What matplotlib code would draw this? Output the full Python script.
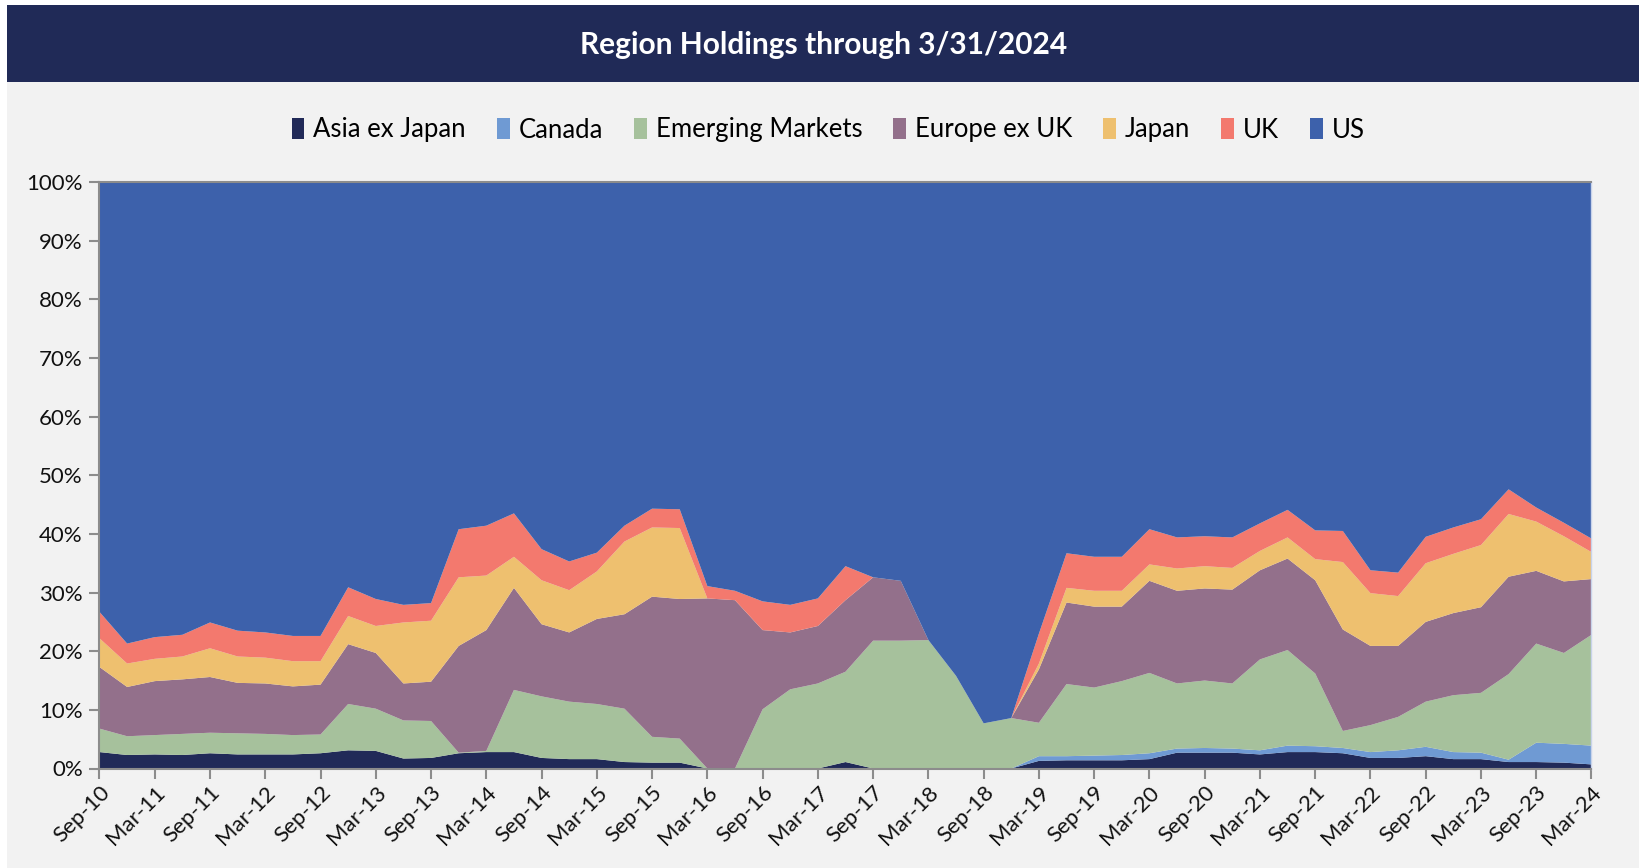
import matplotlib
matplotlib.use("Agg")
import matplotlib.pyplot as plt
import matplotlib.patches as mpatches
from matplotlib.ticker import FuncFormatter
import numpy as np

plt.rcParams['font.family'] = ['Lato', 'DejaVu Sans']

title = "Region Holdings through 3/31/2024"
series_names = ["Asia ex Japan", "Canada", "Emerging Markets", "Europe ex UK", "Japan", "UK", "US"]
colors = ["#212A58", "#6F9AD3", "#A6C19C", "#93708B", "#EEC06F", "#F3796E", "#3D61AB"]

# Quarterly, Sep-10 .. Mar-24 (percent of holdings)
asia = [2.8, 2.3, 2.4, 2.3, 2.6, 2.4, 2.4, 2.4, 2.6, 3.1, 3.0, 1.7, 1.8, 2.6, 2.8, 2.8, 1.8, 1.6, 1.6, 1.1,
        1.0, 1.0, 0.0, 0.0, 0.0, 0.0, 0.0, 1.1, 0.0, 0.0, 0.0, 0.0, 0.0, 0.0, 1.3, 1.4, 1.4, 1.4, 1.6, 2.7,
        2.7, 2.7, 2.4, 2.8, 2.8, 2.6, 1.8, 1.8, 2.1, 1.6, 1.6, 1.1, 1.1, 1.0, 0.7]
canada = [0.0, 0.0, 0.0, 0.0, 0.0, 0.0, 0.0, 0.0, 0.0, 0.0, 0.0, 0.0, 0.0, 0.0, 0.0, 0.0, 0.0, 0.0, 0.0, 0.0,
          0.0, 0.0, 0.0, 0.0, 0.0, 0.0, 0.0, 0.0, 0.0, 0.0, 0.0, 0.0, 0.0, 0.0, 0.8, 0.7, 0.8, 0.9, 1.0, 0.7,
          0.8, 0.7, 0.7, 1.1, 1.0, 0.9, 1.0, 1.3, 1.6, 1.2, 1.1, 0.4, 3.3, 3.2, 3.2]
emerging = [4.0, 3.2, 3.3, 3.6, 3.5, 3.6, 3.5, 3.3, 3.2, 7.9, 7.2, 6.5, 6.3, 0.1, 0.2, 10.6, 10.5, 9.8, 9.4, 9.1,
            4.4, 4.1, 0.0, 0.0, 10.1, 13.5, 14.5, 15.4, 21.8, 21.8, 21.9, 15.8, 7.7, 8.6, 5.7, 12.3, 11.6, 12.6, 13.7, 11.1,
            11.5, 11.1, 15.5, 16.3, 12.4, 2.9, 4.6, 5.7, 7.7, 9.7, 10.2, 14.6, 16.9, 15.5, 18.9]
europe = [10.5, 8.4, 9.2, 9.3, 9.5, 8.6, 8.6, 8.3, 8.5, 10.2, 9.5, 6.3, 6.7, 18.2, 20.6, 17.4, 12.3, 11.8, 14.5, 16.1,
          23.9, 23.8, 29.0, 28.7, 13.5, 9.7, 9.8, 12.2, 10.8, 10.2, 0.0, 0.0, 0.0, 0.0, 9.1, 13.9, 13.8, 12.7, 15.7, 15.8,
          15.7, 16.0, 15.2, 15.6, 15.9, 17.3, 13.5, 12.1, 13.6, 14.0, 14.6, 16.6, 12.4, 12.2, 9.5]
japan = [4.9, 4.0, 3.8, 3.9, 4.9, 4.5, 4.4, 4.3, 4.0, 4.8, 4.6, 10.4, 10.4, 11.7, 9.3, 5.3, 7.5, 7.2, 8.1, 12.4,
         11.8, 12.1, 0.0, 0.0, 0.0, 0.0, 0.0, 0.0, 0.0, 0.0, 0.0, 0.0, 0.0, 0.0, 1.0, 2.5, 2.7, 2.7, 2.8, 3.8,
         3.8, 3.7, 3.3, 3.6, 3.6, 11.5, 9.0, 8.5, 10.0, 10.1, 10.6, 10.7, 8.4, 7.7, 4.6]
uk = [4.5, 3.4, 3.7, 3.7, 4.4, 4.4, 4.3, 4.3, 4.3, 4.9, 4.6, 3.0, 3.0, 8.2, 8.5, 7.4, 5.3, 4.9, 3.2, 2.7,
      3.2, 3.2, 2.1, 1.6, 4.9, 4.7, 4.7, 5.8, 0.0, 0.0, 0.0, 0.0, 0.0, 0.0, 5.1, 5.9, 5.8, 5.8, 6.0, 5.3,
      5.1, 5.2, 4.7, 4.7, 4.9, 5.3, 3.9, 4.0, 4.5, 4.5, 4.4, 4.2, 2.4, 2.3, 2.3]
us = [100 - sum(v) for v in zip(asia, canada, emerging, europe, japan, uk)]

tick_labels = ["Sep-10", "Mar-11", "Sep-11", "Mar-12", "Sep-12", "Mar-13", "Sep-13", "Mar-14", "Sep-14",
               "Mar-15", "Sep-15", "Mar-16", "Sep-16", "Mar-17", "Sep-17", "Mar-18", "Sep-18", "Mar-19",
               "Sep-19", "Mar-20", "Sep-20", "Mar-21", "Sep-21", "Mar-22", "Sep-22", "Mar-23", "Sep-23", "Mar-24"]

W, H = 1640, 868
fig = plt.figure(figsize=(W / 100, H / 100), dpi=100, facecolor="white")

# light grey panel and navy title banner
fig.patches.append(mpatches.Rectangle((7 / W, 0), 1 - 7 / W, 1 - 5 / H, transform=fig.transFigure,
                                      facecolor="#F2F2F2", edgecolor="none", zorder=-2))
fig.patches.append(mpatches.Rectangle((7 / W, 1 - 82 / H), 1 - 7 / W, 77 / H, transform=fig.transFigure,
                                      facecolor="#202A57", edgecolor="none", zorder=-1))
fig.text((7 + W) / 2 / W, 1 - 45 / H, title, color="white", fontsize=21.5, fontweight="bold",
         ha="center", va="center")

left, right, top, bottom = 99.5, 1591.5, 182.0, 768.5
ax = fig.add_axes([left / W, 1 - bottom / H, (right - left) / W, (bottom - top) / H])
ax.set_facecolor("#F2F2F2")

x = np.arange(len(asia))
data = [asia, canada, emerging, europe, japan, uk, us]
polys = ax.stackplot(x, *data, colors=colors, labels=series_names, linewidth=0)

ax.set_xlim(0, len(asia) - 1)
ax.set_ylim(0, 100)
ax.set_yticks(np.arange(0, 101, 10))
ax.yaxis.set_major_formatter(FuncFormatter(lambda v, p: f"{int(v)}%"))
ax.set_xticks(np.arange(0, len(asia), 2))
ax.set_xticklabels(tick_labels, rotation=45, ha="right", rotation_mode="anchor")

for s in ["left", "bottom", "top"]:
    ax.spines[s].set_color("#8C8C8C")
    ax.spines[s].set_linewidth(1.5)
ax.spines["right"].set_color("#C8D3EA")
ax.spines["right"].set_linewidth(1.0)
ax.tick_params(axis="both", colors="#8C8C8C", width=1.5, length=7, labelcolor="#111111", labelsize=16)
ax.tick_params(axis="y", pad=5)
ax.tick_params(axis="x", pad=3)

handles = [mpatches.Patch(facecolor=c, edgecolor="none") for c in colors]
leg = fig.legend(handles, series_names, loc="center", bbox_to_anchor=(0.505, 1 - 130 / H), ncol=7,
                 frameon=False, fontsize=18.5, handlelength=0.5, handleheight=0.85, handletextpad=0.35,
                 columnspacing=1.2)

fig.savefig("out.png", dpi=100, facecolor=fig.get_facecolor())
